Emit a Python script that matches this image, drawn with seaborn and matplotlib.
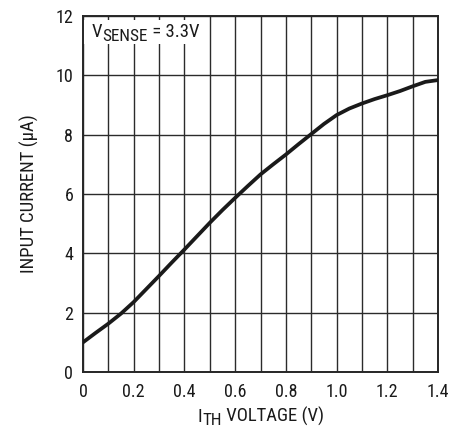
import matplotlib
matplotlib.use("Agg")
import matplotlib.pyplot as plt
from matplotlib import font_manager
from matplotlib.patches import Rectangle
from matplotlib.transforms import IdentityTransform
import numpy as np
import pandas as pd
import seaborn as sns

# I_TH voltage (V) and input current (uA)
ith_voltage = [0.0, 0.05, 0.10, 0.15, 0.20, 0.25, 0.30, 0.35, 0.40, 0.45, 0.50,
               0.55, 0.60, 0.65, 0.70, 0.75, 0.80, 0.85, 0.90, 0.95, 1.00, 1.05,
               1.10, 1.15, 1.20, 1.25, 1.30, 1.35, 1.40]
input_current = [1.00, 1.32, 1.63, 1.97, 2.36, 2.80, 3.24, 3.69, 4.13, 4.58, 5.03,
                 5.46, 5.87, 6.27, 6.66, 7.00, 7.33, 7.68, 8.02, 8.36, 8.66, 8.88,
                 9.05, 9.20, 9.33, 9.47, 9.63, 9.78, 9.84]

x_ticks = [0, 0.2, 0.4, 0.6, 0.8, 1.0, 1.2, 1.4]
x_tick_labels = ["0", "0.2", "0.4", "0.6", "0.8", "1.0", "1.2", "1.4"]
y_ticks = [0, 2, 4, 6, 8, 10, 12]

sns.set_style("white")

names = {f.name for f in font_manager.fontManager.ttflist}
family = next((n for n in ("Roboto Condensed", "Archivo Narrow", "PT Sans Narrow")
               if n in names), "Liberation Sans")
plt.rcParams["font.family"] = [family, "DejaVu Sans"]

INK = "#1a1a1a"
FS = 13.5

df = pd.DataFrame({"voltage": ith_voltage, "current": input_current})

fig = plt.figure(figsize=(4.62, 4.30), dpi=100)
ax = fig.add_axes([0.1797, 0.1349, 0.7684, 0.8279])

sns.lineplot(data=df, x="voltage", y="current", ax=ax, color=INK,
             linewidth=2.7, zorder=3)

ax.set_xlim(0, 1.4)
ax.set_ylim(0, 12)
ax.set_xticks(x_ticks)
ax.set_xticklabels(x_tick_labels)
ax.set_xticks(np.arange(0.1, 1.4, 0.2), minor=True)
ax.set_yticks(y_ticks)
ax.tick_params(axis="both", which="both", length=0, labelsize=FS - 0.5, colors=INK)
ax.tick_params(axis="x", pad=8)
ax.tick_params(axis="y", pad=7)

ax.grid(True, which="major", axis="both", color="#2b2b2b", linewidth=1.0)
ax.grid(True, which="minor", axis="x", color="#2b2b2b", linewidth=1.0)
ax.set_axisbelow(True)

for s in ax.spines.values():
    s.set_color("#262626")
    s.set_linewidth(1.4)

ax.set_xlabel("")
ax.set_ylabel("INPUT CURRENT (\u03bcA)", fontsize=FS, color=INK, labelpad=12)

# white patch behind the condition label, hiding the grid there
ax.add_patch(Rectangle((0.0, 11.04), 0.487, 0.82, facecolor="white",
                       edgecolor="none", zorder=2))


def compose(pieces, x, y, ha="left"):
    """Draw text runs side by side in pixel space; each run is (text, size, drop)."""
    renderer = fig.canvas.get_renderer()
    arts = []
    for txt, size, drop in pieces:
        t = fig.text(0, 0, txt, fontsize=size, color=INK, va="baseline", ha="left",
                     transform=IdentityTransform(), zorder=5)
        arts.append((t, drop, t.get_window_extent(renderer).width))
    total = sum(w for _, _, w in arts)
    cx = x - total / 2 if ha == "center" else x
    for t, drop, w in arts:
        t.set_position((cx, y - drop))
        cx += w


H = 430
compose([("V", FS, 0), ("SENSE", FS - 1.2, 4.0), (" = 3.3V", FS, 0)], 92, H - 36.7)
compose([("I", FS, 0), ("TH", FS - 1.2, 3.3), (" VOLTAGE (V)", FS, 0)], 261, H - 421.7,
        ha="center")

fig.savefig("out.png", dpi=100)
